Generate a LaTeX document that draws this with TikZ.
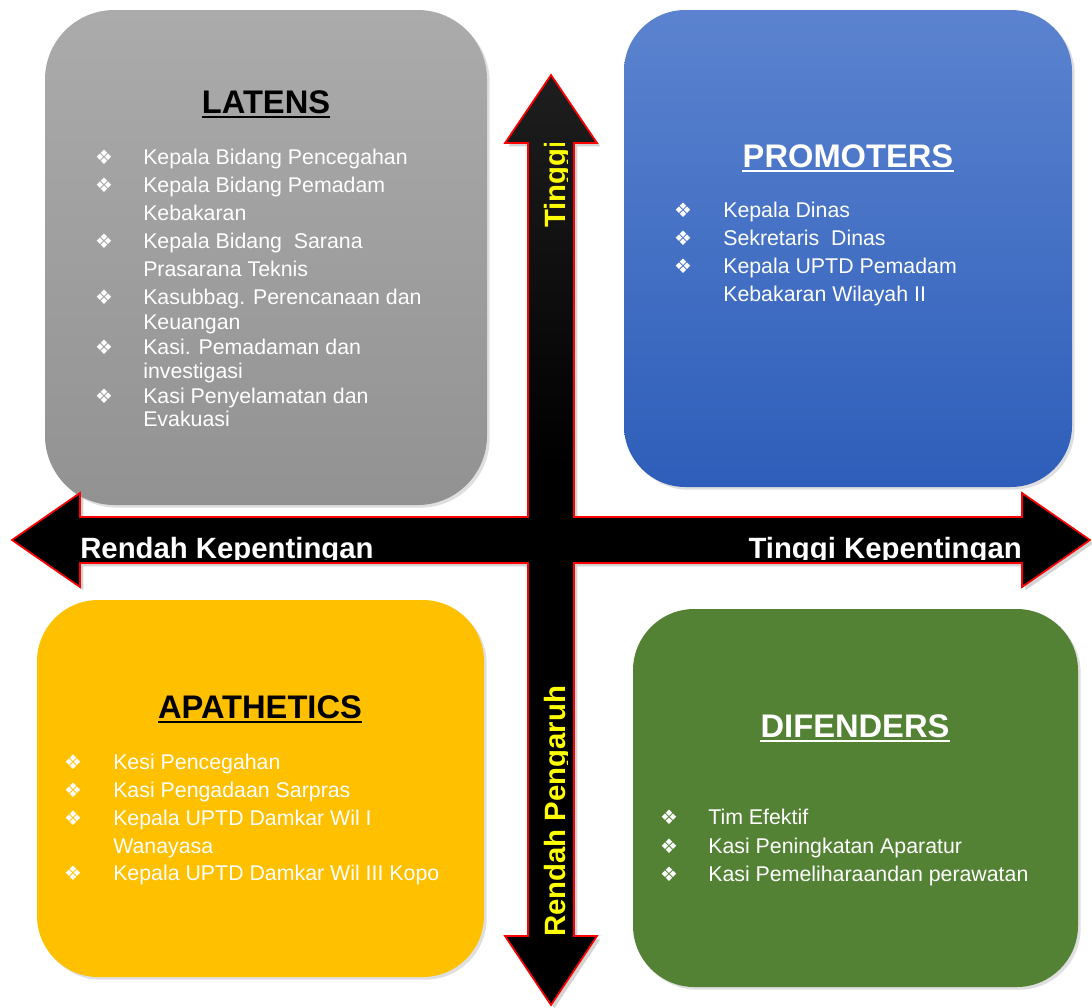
\documentclass[tikz,border=0pt]{standalone}
\usepackage{fontspec}
\setmainfont{Liberation Sans}
\newfontfamily\dejavu{DejaVu Sans}
\usetikzlibrary{shadows}
\definecolor{lattop}{HTML}{ABABAB}
\definecolor{latbot}{HTML}{929292}
\definecolor{protop}{HTML}{5B83CF}
\definecolor{probot}{HTML}{2E5EBA}
\definecolor{apayel}{HTML}{FFC000}
\definecolor{difgrn}{HTML}{548235}
\definecolor{axyel}{HTML}{FFFF00}
\pgfdeclareverticalshading{crossshade}{100bp}{color(0bp)=(black); color(54bp)=(black); color(100bp)=(black!74)}

\begin{document}
\begin{tikzpicture}[x=0.75pt,y=-0.75pt,
    quad/.style = {rounded corners=46pt, drop shadow={shadow xshift=2pt,shadow yshift=-2pt,opacity=0.25}},
    title/.style = {font=\fontsize{24.5}{25}\selectfont\bfseries, inner sep=0pt, anchor=base},
    itemtext/.style = {font=\fontsize{16}{16}\selectfont, text=white, inner sep=0pt, anchor=base west},
    bul/.style = {font=\dejavu\fontsize{15}{15}\selectfont, text=white, inner sep=0pt},
    axislabel/.style = {font=\fontsize{22}{22}\selectfont\bfseries, inner sep=0pt}]
  \useasboundingbox (0,0) rectangle (1092,1007);

  \path[quad, rounded corners=52pt, top color=lattop, bottom color=latbot] (45,10) rectangle (487,505);
  \path[quad, top color=protop, bottom color=probot] (624,10) rectangle (1072,487);
  \path[quad, fill=apayel] (37,600) rectangle (484,977);
  \path[quad, fill=difgrn] (633,609) rectangle (1078,987);

  \node[title, text=black] (latens) at (266,113) {LATENS};
  \node[title, text=white] (promoters) at (848,167) {PROMOTERS};
  \node[title, text=black] (apathetics) at (260,718) {APATHETICS};
  \node[title, text=white] (difenders) at (855,737) {DIFENDERS};
  \draw[line width=1.5pt, black] ([yshift=-3.2pt]latens.base west) -- ([yshift=-3.2pt]latens.base east);
  \draw[line width=1.5pt, white] ([yshift=-3.2pt]promoters.base west) -- ([yshift=-3.2pt]promoters.base east);
  \draw[line width=1.5pt, black] ([yshift=-3.2pt]apathetics.base west) -- ([yshift=-3.2pt]apathetics.base east);
  \draw[line width=1.5pt, white] ([yshift=-3.2pt]difenders.base west) -- ([yshift=-3.2pt]difenders.base east);

  \foreach \y/\b/\t [count=\i] in {164/1/Kepala Bidang Pencegahan, 192/1/Kepala Bidang Pemadam,
      220/0/Kebakaran, 248/1/Kepala Bidang~ Sarana, 276/0/Prasarana Teknis,
      304/1/Kasubbag. Perencanaan dan, 329/0/Keuangan, 354/1/Kasi. Pemadaman dan,
      378/0/investigasi, 403/1/Kasi Penyelamatan dan, 426/0/Evakuasi}{
    \node[itemtext] (lat\i) at (143,\y) {\t};
    \ifnum\b=1 \node[bul] (latb\i) at (104,\y-7) {❖}; \fi
  }
  \foreach \y/\b/\t [count=\i] in {217/1/Kepala Dinas, 245/1/Sekretaris~ Dinas,
      273/1/Kepala UPTD Pemadam, 301/0/Kebakaran Wilayah II}{
    \node[itemtext] (pro\i) at (723,\y) {\t};
    \ifnum\b=1 \node[bul] (prob\i) at (683,\y-7) {❖}; \fi
  }
  \foreach \y/\b/\t [count=\i] in {769/1/Kesi Pencegahan, 797/1/Kasi Pengadaan Sarpras,
      825/1/Kepala UPTD Damkar Wil I, 853/0/Wanayasa, 880/1/Kepala UPTD Damkar Wil III Kopo}{
    \node[itemtext] (apa\i) at (113,\y) {\t};
    \ifnum\b=1 \node[bul] (apab\i) at (73,\y-7) {❖}; \fi
  }
  \foreach \y/\b/\t [count=\i] in {824/1/Tim Efektif, 853/1/Kasi Peningkatan Aparatur,
      881/1/Kasi Pemeliharaandan perawatan}{
    \node[itemtext] (dif\i) at (708,\y) {\t};
    \ifnum\b=1 \node[bul] (difb\i) at (669,\y-7) {❖}; \fi
  }

  \path[draw=red, line width=1.3pt, line join=miter, shading=crossshade,
      drop shadow={shadow xshift=2.5pt,shadow yshift=-2.5pt,opacity=0.35}]
    (12,540) -- (80,493) -- (80,517) -- (528,517) -- (528,143) -- (505,143) -- (551,75)
    -- (597,143) -- (574,143) -- (574,517) -- (1022,517) -- (1022,493) -- (1090,540)
    -- (1022,587) -- (1022,563) -- (574,563) -- (574,936) -- (597,936) -- (551,1005)
    -- (505,936) -- (528,936) -- (528,563) -- (80,563) -- (80,587) -- cycle;

  \begin{scope}
    \clip (80,518) rectangle (1022,559);
    \node[axislabel, text=white, anchor=base west] (rendahkep) at (80,558) {Rendah Kepentingan};
    \node[axislabel, text=white, anchor=base east] (tinggikep) at (1022,558) {Tinggi Kepentingan};
  \end{scope}
  \begin{scope}
    \clip (529,143) rectangle (567,936);
    \node[axislabel, text=axyel, anchor=base west, rotate=90] (tinggipeng) at (565,228) {Tinggi};
    \node[axislabel, text=axyel, anchor=base west, rotate=90] (rendahpeng) at (565,937) {Rendah Pengaruh};
  \end{scope}
\end{tikzpicture}
\end{document}
